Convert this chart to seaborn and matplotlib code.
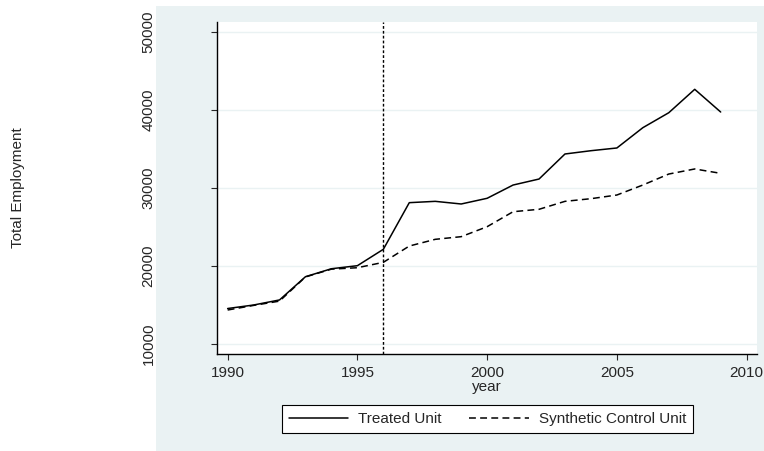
import matplotlib
matplotlib.use("Agg")
import matplotlib.pyplot as plt
import matplotlib.patches as mpatches
import pandas as pd
import seaborn as sns

years = list(range(1990, 2010))
treated = [14550, 15000, 15650, 18630, 19650, 20040, 22140, 28120, 28290, 27950,
           28680, 30380, 31150, 34360, 34780, 35130, 37730, 39650, 42650, 39740]
synthetic = [14360, 14950, 15500, 18600, 19600, 19780, 20470, 22560, 23420, 23760,
             25040, 26960, 27270, 28290, 28630, 29100, 30380, 31790, 32440, 31880]
treatment_year = 1996
y_ticks = [10000, 20000, 30000, 40000, 50000]
x_ticks = [1990, 1995, 2000, 2005, 2010]

W, H = 764, 451
bg = "#EAF2F3"

sns.set_style("white")
plt.rcParams["font.family"] = ["Liberation Sans", "DejaVu Sans"]
plt.rcParams["font.size"] = 11

df = pd.DataFrame({"year": years, "treated": treated, "synthetic": synthetic})

fig = plt.figure(figsize=(W / 100, H / 100), dpi=100, facecolor="white")
fig.patches.append(mpatches.Rectangle((156 / W, 0), (W - 156) / W, (H - 6) / H,
                                      transform=fig.transFigure, facecolor=bg,
                                      edgecolor="none", zorder=-10))

ax = fig.add_axes([217 / W, (H - 354) / H, (757 - 217) / W, (354 - 22) / H])
ax.set_facecolor("white")

sns.lineplot(data=df, x="year", y="treated", color="black", linewidth=1.1,
             ax=ax, label="Treated Unit")
sns.lineplot(data=df, x="year", y="synthetic", color="black", linewidth=1.1,
             linestyle=(0, (4.5, 2.8)), ax=ax, label="Synthetic Control Unit")
ax.axvline(treatment_year, color="black", linewidth=1.0, linestyle=(0, (2, 1.5)))

for t in y_ticks:
    ax.axhline(t, color=bg, linewidth=1.0, zorder=0)

ax.set_xlim(1989.59, 2010.4)
ax.set_ylim(8720, 51280)
ax.set_xticks(x_ticks)
ax.set_yticks(y_ticks)
ax.set_yticklabels([str(t) for t in y_ticks], rotation=90, va="center")
ax.tick_params(axis="y", length=4.3, width=0.8, pad=40, direction="out", left=True)
ax.tick_params(axis="x", length=4.3, width=0.8, pad=4, direction="out", bottom=True)
ax.set_xlabel("year", labelpad=0.5)
ax.set_ylabel("")

for side in ["top", "right"]:
    ax.spines[side].set_visible(False)
for side in ["left", "bottom"]:
    ax.spines[side].set_color("black")
    ax.spines[side].set_linewidth(1.0)

fig.text(18 / W, 1 - 188 / H, "Total Employment", rotation=90, ha="center", va="center")

ax.get_legend().remove()
leg = fig.legend(loc="center", bbox_to_anchor=(487.5 / W, 1 - 419 / H), ncol=2,
                 frameon=True, fancybox=False, edgecolor="black", framealpha=1,
                 handlelength=3.9, handletextpad=0.65, columnspacing=1.8,
                 borderpad=0.45, borderaxespad=0)
leg.get_frame().set_linewidth(0.8)

fig.savefig("out.png", dpi=100, facecolor="white")
